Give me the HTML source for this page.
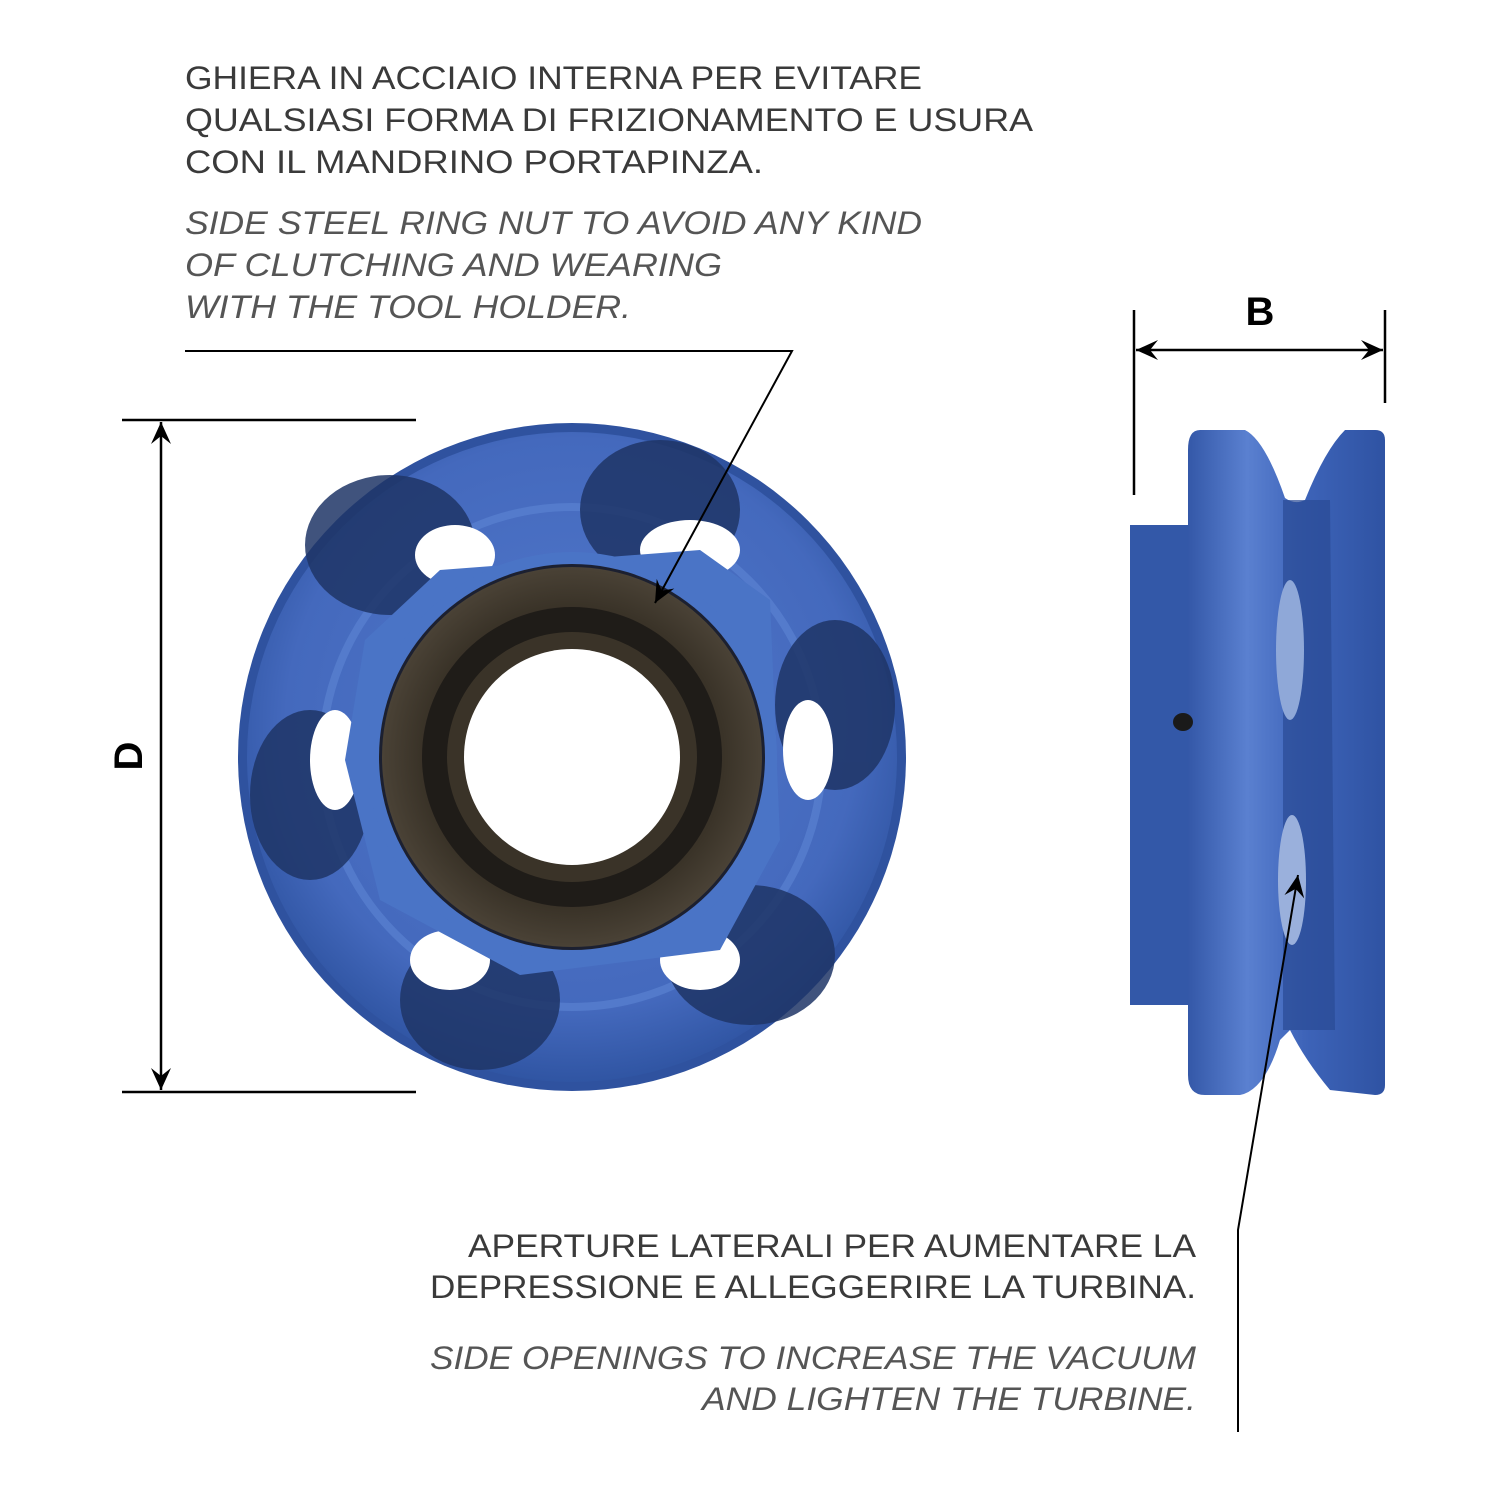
<!DOCTYPE html>
<html><head><meta charset="utf-8"><style>
html,body{margin:0;padding:0;background:#fff;}
svg{display:block}
.t{font-family:"Liberation Sans",sans-serif;font-size:32px;fill:#3a3a3a;font-weight:normal}
.i{font-style:italic;fill:#555}
</style></head><body>
<svg width="1500" height="1500" viewBox="0 0 1500 1500" xmlns="http://www.w3.org/2000/svg">
<defs>
<radialGradient id="blue" cx="50%" cy="45%" r="55%">
<stop offset="0" stop-color="#5279cc"/><stop offset="0.8" stop-color="#4469bd"/><stop offset="1" stop-color="#3055a3"/>
</radialGradient>
<radialGradient id="bronze" cx="50%" cy="50%" r="50%">
<stop offset="0.6" stop-color="#2a2620"/><stop offset="0.8" stop-color="#3a3328"/><stop offset="1" stop-color="#4a4236"/>
</radialGradient>
<linearGradient id="side" x1="0" x2="1" y1="0" y2="0">
<stop offset="0" stop-color="#3458a8"/><stop offset="0.3" stop-color="#5a80d0"/><stop offset="0.6" stop-color="#3d63b8"/><stop offset="1" stop-color="#2f53a3"/>
</linearGradient>
<marker id="ah" markerWidth="24" markerHeight="24" refX="22" refY="12" orient="auto" markerUnits="userSpaceOnUse" viewBox="0 0 24 24">
<path d="M0,2 L22,12 L0,22 L8,12 Z" fill="#000"/></marker>
</defs>

<text class="t" x="185" y="89" textLength="737" lengthAdjust="spacingAndGlyphs">GHIERA IN ACCIAIO INTERNA PER EVITARE</text>
<text class="t" x="185" y="131" textLength="848" lengthAdjust="spacingAndGlyphs">QUALSIASI FORMA DI FRIZIONAMENTO E USURA</text>
<text class="t" x="185" y="173" textLength="578" lengthAdjust="spacingAndGlyphs">CON IL MANDRINO PORTAPINZA.</text>
<text class="t i" x="185" y="234" textLength="737" lengthAdjust="spacingAndGlyphs">SIDE STEEL RING NUT TO AVOID ANY KIND</text>
<text class="t i" x="185" y="276" textLength="537" lengthAdjust="spacingAndGlyphs">OF CLUTCHING AND WEARING</text>
<text class="t i" x="185" y="318" textLength="446" lengthAdjust="spacingAndGlyphs">WITH THE TOOL HOLDER.</text>

<text class="t" x="468" y="1257" textLength="728" lengthAdjust="spacingAndGlyphs">APERTURE LATERALI PER AUMENTARE LA</text>
<text class="t" x="430" y="1298" textLength="766" lengthAdjust="spacingAndGlyphs">DEPRESSIONE E ALLEGGERIRE LA TURBINA.</text>
<text class="t i" x="430" y="1369" textLength="766" lengthAdjust="spacingAndGlyphs">SIDE OPENINGS TO INCREASE THE VACUUM</text>
<text class="t i" x="702" y="1410" textLength="494" lengthAdjust="spacingAndGlyphs">AND LIGHTEN THE TURBINE.</text>

<circle cx="572" cy="757" r="334" fill="#2f529f"/>
<circle cx="572" cy="757" r="325" fill="url(#blue)"/>
<circle cx="572" cy="757" r="250" fill="none" stroke="#5d86d4" stroke-width="8" opacity="0.6"/>
<g fill="#1f3566" opacity="0.85">
<ellipse cx="660" cy="510" rx="80" ry="70"/>
<ellipse cx="835" cy="705" rx="60" ry="85"/>
<ellipse cx="750" cy="955" rx="85" ry="70"/>
<ellipse cx="480" cy="1000" rx="80" ry="70"/>
<ellipse cx="310" cy="795" rx="60" ry="85"/>
<ellipse cx="390" cy="545" rx="85" ry="70"/>
</g>
<g fill="#fff">
<ellipse cx="690" cy="550" rx="50" ry="30"/>
<ellipse cx="808" cy="750" rx="25" ry="50"/>
<ellipse cx="700" cy="960" rx="40" ry="30"/>
<ellipse cx="450" cy="960" rx="40" ry="30"/>
<ellipse cx="335" cy="760" rx="25" ry="50"/>
<ellipse cx="455" cy="555" rx="40" ry="30"/>
</g>
<path d="M365,640 L440,570 L700,550 L770,600 L780,840 L720,950 L520,975 L380,900 L345,760 Z" fill="#4a74c6"/>
<circle cx="572" cy="757" r="205" fill="#4a74c6"/>
<circle cx="572" cy="757" r="193" fill="#1c2030"/>
<circle cx="572" cy="757" r="190" fill="url(#bronze)"/>
<circle cx="572" cy="757" r="150" fill="#1f1c18"/>
<circle cx="572" cy="757" r="125" fill="#3a3328"/>
<circle cx="572" cy="757" r="108" fill="#fff"/>

<path d="M1130,525 L1196,525 L1196,1005 L1130,1005 Z" fill="#3358a8"/>
<path d="M1200,430 Q1188,430 1188,450 L1188,1075 Q1188,1095 1205,1095 L1240,1095 Q1265,1090 1280,1040 L1290,1030 Q1305,1060 1330,1090 L1375,1095 Q1385,1095 1385,1085 L1385,440 Q1385,430 1375,430 L1345,430 Q1325,450 1305,500 Q1295,505 1285,498 Q1265,440 1245,430 Z" fill="url(#side)"/>
<path d="M1283,500 L1330,500 L1335,1030 L1283,1030 Z" fill="#2a4a94" opacity="0.7"/>
<ellipse cx="1290" cy="650" rx="14" ry="70" fill="#8fa8d8"/>
<ellipse cx="1292" cy="880" rx="14" ry="65" fill="#9ab0dc"/>
<ellipse cx="1183" cy="722" rx="10" ry="9" fill="#1a1a1a"/>

<g stroke="#000" stroke-width="2.5" fill="none">
<line x1="122" y1="420" x2="416" y2="420"/>
<line x1="122" y1="1092" x2="416" y2="1092"/>
<line x1="161" y1="757" x2="161" y2="422" marker-end="url(#ah)"/>
<line x1="161" y1="757" x2="161" y2="1090" marker-end="url(#ah)"/>
<line x1="1134" y1="310" x2="1134" y2="495"/>
<line x1="1385" y1="310" x2="1385" y2="403"/>
<line x1="1260" y1="350" x2="1136" y2="350" marker-end="url(#ah)"/>
<line x1="1260" y1="350" x2="1383" y2="350" marker-end="url(#ah)"/>
</g>
<path d="M185,351 L792,351 L655,603" stroke="#000" stroke-width="2" fill="none" marker-end="url(#ah)"/>
<path d="M1238,1432 L1238,1230 L1298,875" stroke="#000" stroke-width="2" fill="none" marker-end="url(#ah)"/>
<text x="142" y="756" transform="rotate(-90 142 756)" text-anchor="middle" font-family="Liberation Sans,sans-serif" font-weight="bold" font-size="40" fill="#000">D</text>
<text x="1260" y="325" text-anchor="middle" font-family="Liberation Sans,sans-serif" font-weight="bold" font-size="40" fill="#000">B</text>
</svg>
</body></html>
